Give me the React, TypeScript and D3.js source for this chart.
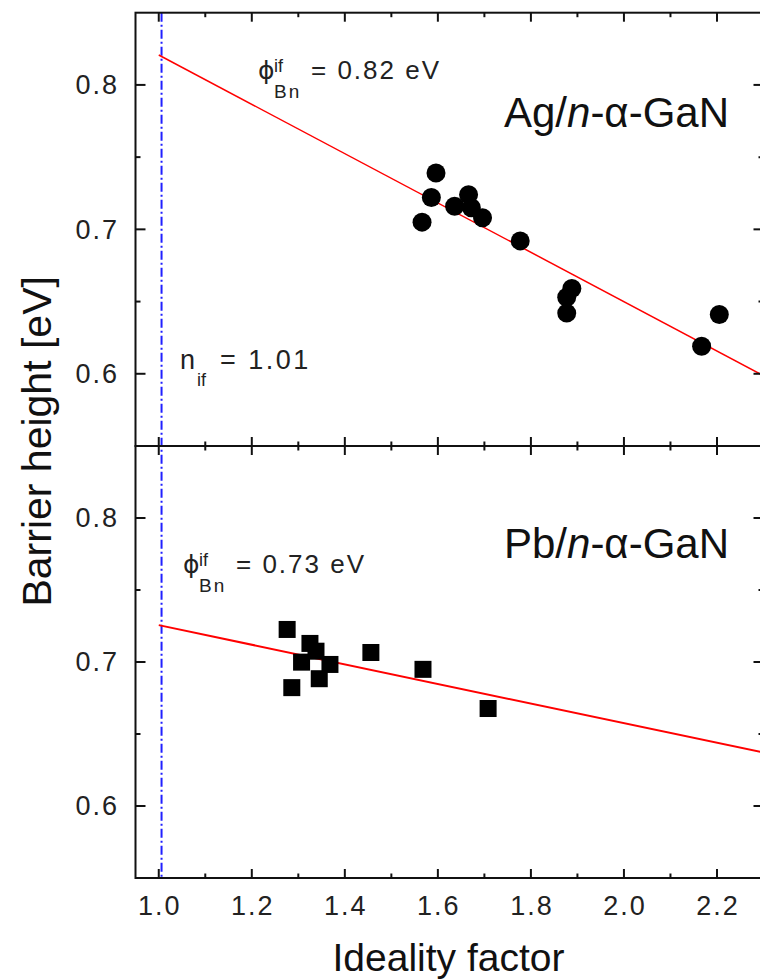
import React from 'react';
import * as d3 from 'd3';

// Ag/n-α-GaN diodes (circles)
const agIdeality = [1.596, 1.586, 1.566, 1.636, 1.666, 1.672, 1.696, 1.777, 1.888, 1.877, 1.877, 2.167, 2.205];
const agBarrier = [0.739, 0.722, 0.705, 0.716, 0.724, 0.715, 0.708, 0.692, 0.659, 0.653, 0.642, 0.619, 0.641];

// Pb/n-α-GaN diodes (squares)
const pbIdeality = [1.276, 1.325, 1.307, 1.338, 1.368, 1.345, 1.286, 1.456, 1.568, 1.708];
const pbBarrier = [0.7226, 0.7129, 0.6999, 0.7075, 0.6983, 0.6884, 0.6822, 0.7066, 0.6949, 0.6677];

// linear fits: [ideality, barrier] at both ends
const agFit: [number, number][] = [[1.0, 0.8207], [2.3, 0.5987]];
const pbFit: [number, number][] = [[1.0, 0.7256], [2.3, 0.6371]];
const nIf = 1.006;

const xMajor = [1.0, 1.2, 1.4, 1.6, 1.8, 2.0, 2.2];
const xMinor = [1.1, 1.3, 1.5, 1.7, 1.9, 2.1, 2.3];
const yMajor = [0.6, 0.7, 0.8];
const yMinor = [0.65, 0.75];

const W = 760;
const H = 979;
const left = 135.5;
const right = 763.5;
const top = 12.7;
const mid = 446;
const bottom = 878;

const sans = 'Liberation Sans, Arial, sans-serif';

export default function App() {
  const x = d3.scaleLinear().domain([0.95, 2.3]).range([left, right]);
  const yTop = d3.scaleLinear().domain([0.55, 0.85]).range([mid, top]);
  const yBot = d3.scaleLinear().domain([0.55, 0.85]).range([bottom, mid]);
  const fmt = d3.format('.1f');

  const panel = (y: d3.ScaleLinear<number, number>, key: string) => {
    const [y0, y1] = y.range();
    return (
      <g key={key} stroke="#111" strokeWidth={2}>
        <rect x={left} y={y1} width={right - left} height={y0 - y1} fill="none" />
        {xMajor.map(v => (
          <g key={'M' + v}>
            <line x1={x(v)} x2={x(v)} y1={y0} y2={y0 - 9} />
            <line x1={x(v)} x2={x(v)} y1={y1} y2={y1 + 9} />
          </g>
        ))}
        {xMinor.map(v => (
          <g key={'m' + v}>
            <line x1={x(v)} x2={x(v)} y1={y0} y2={y0 - 4.5} />
            <line x1={x(v)} x2={x(v)} y1={y1} y2={y1 + 4.5} />
          </g>
        ))}
        {yMajor.map(v => (
          <g key={'yM' + v}>
            <line x1={left} x2={left + 10} y1={y(v)} y2={y(v)} />
            <line x1={right} x2={right - 10} y1={y(v)} y2={y(v)} />
          </g>
        ))}
        {yMinor.map(v => (
          <g key={'ym' + v}>
            <line x1={left} x2={left + 5} y1={y(v)} y2={y(v)} />
            <line x1={right} x2={right - 5} y1={y(v)} y2={y(v)} />
          </g>
        ))}
      </g>
    );
  };

  const yLabels = (y: d3.ScaleLinear<number, number>, key: string) => (
    <g key={key} fontFamily={sans} fontSize={27} letterSpacing={2} fill="#222" textAnchor="end">
      {yMajor.map(v => (
        <text key={v} x={119} y={y(v)} dy="0.35em">{fmt(v)}</text>
      ))}
    </g>
  );

  const fitLine = d3.line<[number, number]>();

  const phiLabel = (px: number, base: number, value: string) => (
    <g fontFamily={sans} fill="#222">
      <text x={px} y={base} fontFamily="DejaVu Sans, sans-serif" fontSize={25}>ϕ</text>
      <text x={px + 16} y={base - 7} fontSize={18}>if</text>
      <text x={px + 16} y={base + 19} fontSize={19} letterSpacing={2}>Bn</text>
      <text x={px + 53} y={base} fontSize={26} letterSpacing={2}>{value}</text>
    </g>
  );

  return (
    <svg width={W} height={H} style={{ position: 'absolute', left: 0, top: 0, display: 'block' }}>
      <rect width={W} height={H} fill="#fff" />

      {/* blue dash-dot line at n_if */}
      <line x1={x(nIf)} x2={x(nIf)} y1={top} y2={bottom} stroke="#2020ff" strokeWidth={2}
        strokeDasharray="9,3,2,3" />

      {/* fits */}
      <path d={fitLine(agFit.map(d => [x(d[0]), yTop(d[1])]) as [number, number][]) || ''}
        fill="none" stroke="#ff0000" strokeWidth={1.5} />
      <path d={fitLine(pbFit.map(d => [x(d[0]), yBot(d[1])]) as [number, number][]) || ''}
        fill="none" stroke="#ff0000" strokeWidth={2} />

      {/* data */}
      <g fill="#000">
        {agIdeality.map((n, i) => (
          <circle key={i} cx={x(n)} cy={yTop(agBarrier[i])} r={9.5} />
        ))}
        {pbIdeality.map((n, i) => (
          <rect key={i} x={x(n) - 8.5} y={yBot(pbBarrier[i]) - 8.5} width={17} height={17} />
        ))}
      </g>

      {panel(yTop, 'top')}
      {panel(yBot, 'bot')}
      {yLabels(yTop, 'lt')}
      {yLabels(yBot, 'lb')}

      {/* x tick labels */}
      <g fontFamily={sans} fontSize={27} letterSpacing={2} fill="#222" textAnchor="middle">
        {xMajor.map(v => (
          <text key={v} x={x(v) + 1} y={915}>{fmt(v)}</text>
        ))}
      </g>

      {/* axis titles */}
      <text x={(left + right) / 2 - 1} y={971} textAnchor="middle" fontFamily={sans} fontSize={39} fill="#111">
        Ideality factor
      </text>
      <text transform={`translate(51,${(top + bottom) / 2 - 4}) rotate(-90)`} textAnchor="middle"
        fontFamily={sans} fontSize={41} fill="#111">
        Barrier height [eV]
      </text>

      {/* annotations */}
      {phiLabel(258, 79, '= 0.82 eV')}
      {phiLabel(183, 573, '= 0.73 eV')}

      <g fontFamily={sans} fill="#222">
        <text x={180} y={369} fontSize={27}>n</text>
        <text x={197} y={386} fontSize={18}>if</text>
        <text x={220} y={369} fontSize={27} letterSpacing={2.5}>= 1.01</text>
      </g>

      <g fontFamily={sans} fontSize={42} fill="#111" textAnchor="end">
        <text x={729} y={127}>Ag/<tspan fontStyle="italic">n</tspan>-α-GaN</text>
        <text x={729} y={558}>Pb/<tspan fontStyle="italic">n</tspan>-α-GaN</text>
      </g>
    </svg>
  );
}
